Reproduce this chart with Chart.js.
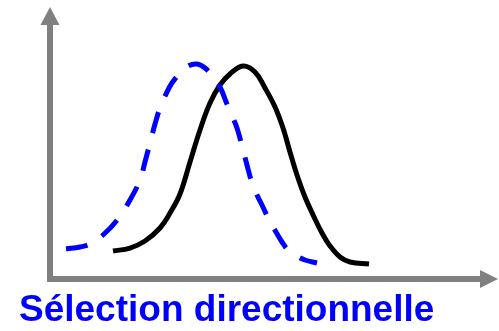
<!DOCTYPE html>
<html>
<head>
<meta charset="utf-8">
<script src="https://cdn.jsdelivr.net/npm/chart.js@4/dist/chart.umd.min.js"></script>
<style>
  html, body { margin: 0; padding: 0; background: #ffffff; }
  #wrap { width: 499px; height: 331px; }
</style>
</head>
<body>
<div id="wrap"><canvas id="selectionChart"></canvas></div>
<script>
// Trait distribution before selection (solid black)
const beforeX = [14.65, 18.6, 22.09, 25.58, 27.91, 30.23, 32.56, 34.88, 37.21, 39.53, 41.86, 44.88, 47.67, 50.0, 52.33, 54.19, 55.81, 57.44, 59.3, 61.4, 63.26, 65.12, 67.44, 69.77, 74.19];
const beforeY = [11.02, 12.2, 14.96, 20.08, 25.98, 33.46, 46.06, 58.66, 69.29, 76.38, 80.71, 83.86, 81.5, 75.2, 67.72, 59.45, 50.0, 40.94, 32.28, 24.41, 18.11, 12.99, 8.66, 6.69, 5.91];

// Shifted distribution after selection (dashed blue)
const afterX = [3.72, 6.98, 9.3, 12.33, 15.81, 18.6, 20.93, 22.09, 23.26, 24.42, 25.58, 26.98, 28.37, 30.23, 32.09, 34.19, 36.05, 37.91, 39.53, 41.16, 42.33, 43.49, 44.65, 45.81, 46.98, 48.14, 49.3, 51.16, 52.56, 53.95, 55.35, 56.98, 59.3, 62.09];
const afterY = [11.81, 12.6, 13.78, 17.32, 23.62, 31.1, 38.98, 46.06, 53.54, 61.02, 67.32, 72.83, 77.17, 81.1, 83.86, 84.65, 83.07, 79.53, 75.59, 68.9, 64.17, 59.45, 52.36, 44.88, 37.8, 33.07, 29.13, 22.44, 18.5, 14.57, 11.42, 9.45, 7.48, 6.3];

const chartTitle = 'Sélection directionnelle';

const toPoints = (xs, ys) => xs.map((x, i) => ({ x: x, y: ys[i] }));

// arrow heads at the ends of both axes
const axisArrows = {
    id: 'axisArrows',
    afterDraw(chart) {
        const { ctx } = chart;
        const xEnd = chart.scales.x.right;
        const yEnd = chart.scales.y.top;
        const xLine = chart.scales.x.top;
        const yLine = chart.scales.y.right;
        ctx.save();
        ctx.fillStyle = '#808080';
        // up arrow
        ctx.beginPath();
        ctx.moveTo(yLine - 9.5, yEnd);
        ctx.lineTo(yLine + 9.5, yEnd);
        ctx.lineTo(yLine, yEnd - 18);
        ctx.closePath();
        ctx.fill();
        // right arrow
        ctx.beginPath();
        ctx.moveTo(xEnd, xLine - 9);
        ctx.lineTo(xEnd, xLine + 9);
        ctx.lineTo(xEnd + 18, xLine);
        ctx.closePath();
        ctx.fill();
        ctx.restore();
    }
};

const ctx = document.getElementById('selectionChart').getContext('2d');
new Chart(ctx, {
    type: 'line',
    data: {
        datasets: [{
            data: toPoints(afterX, afterY),
            borderColor: '#0000ff',
            borderWidth: 5,
            borderDash: [22, 17],
            borderCapStyle: 'butt',
            tension: 0.4,
            pointRadius: 0,
            fill: false
        }, {
            data: toPoints(beforeX, beforeY),
            borderColor: '#000000',
            borderWidth: 5,
            borderJoinStyle: 'round',
            tension: 0.4,
            pointRadius: 0,
            fill: false
        }]
    },
    options: {
        responsive: true,
        maintainAspectRatio: false,
        animation: false,
        layout: {
            autoPadding: false,
            padding: { left: 19, right: 19, top: 25, bottom: 0 }
        },
        plugins: {
            legend: { display: false },
            tooltip: { enabled: false },
            title: {
                display: true,
                text: chartTitle,
                position: 'bottom',
                align: 'start',
                color: '#0000ff',
                font: { family: '"Liberation Sans", Arial, sans-serif', size: 37, weight: 'bold', lineHeight: 1.0 },
                padding: { top: 13, bottom: 2 }
            }
        },
        scales: {
            x: {
                type: 'linear',
                min: 0,
                max: 100,
                ticks: { display: false },
                grid: { display: false, drawTicks: false },
                border: { color: '#808080', width: 6 }
            },
            y: {
                min: 0,
                max: 100,
                ticks: { display: false },
                grid: { display: false, drawTicks: false },
                border: { color: '#808080', width: 6 },
                afterFit(scale) { scale.width = 31; }
            }
        }
    },
    plugins: [axisArrows]
});
</script>
</body>
</html>
